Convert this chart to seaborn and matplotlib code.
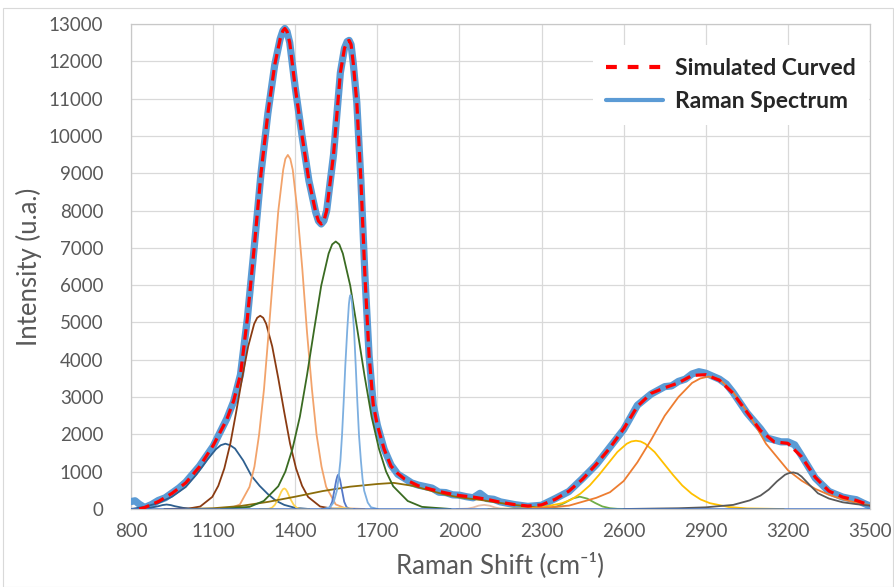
import matplotlib
matplotlib.use("Agg")
import matplotlib.pyplot as plt
import seaborn as sns
from matplotlib.lines import Line2D
from matplotlib.patches import Rectangle

# ---------------- data ----------------
x_ticks = [800, 1100, 1400, 1700, 2000, 2300, 2600, 2900, 3200, 3500]
y_ticks = list(range(0, 14000, 1000))

# simulated (fitted) curve
sim_x = [830, 850, 900, 950, 1000, 1050, 1100, 1150, 1175, 1200, 1225, 1250, 1275,
         1300, 1325, 1345, 1355, 1362, 1370, 1380, 1400, 1425, 1450, 1475, 1485, 1495,
         1505, 1515, 1540, 1565, 1580, 1590, 1597, 1604, 1612, 1625, 1640, 1655, 1670,
         1685, 1700, 1725, 1750, 1775, 1800, 1850, 1900, 1950, 2000, 2050, 2100, 2150,
         2200, 2250, 2300, 2350, 2400, 2450, 2500, 2550, 2600, 2650, 2700, 2750, 2800,
         2850, 2900, 2950, 3000, 3050, 3100, 3150, 3200, 3250, 3300, 3350, 3400, 3450, 3500]
sim_y = [0, 40, 200, 420, 700, 1130, 1700, 2400, 2900, 3600, 5100, 7000, 9000,
         10600, 11900, 12600, 12820, 12880, 12800, 12500, 11300, 10000, 8800, 7950, 7720, 7640,
         7730, 8000, 9500, 11700, 12350, 12530, 12560, 12450, 11950, 10900, 8800, 6200, 4100,
         2800, 2250, 1600, 1150, 950, 800, 620, 520, 430, 360, 320, 260, 180,
         120, 80, 110, 260, 480, 800, 1200, 1640, 2150, 2750, 3100, 3250, 3380,
         3580, 3600, 3450, 3100, 2600, 2100, 1800, 1760, 1400, 850, 480, 320, 230, 100]

# measured Raman spectrum (noisy)
raman_x = [800, 815, 830, 850, 875, 900, 925, 950, 975, 1000, 1050, 1100, 1150, 1175, 1200,
           1225, 1250, 1275, 1300, 1325, 1345, 1355, 1362, 1370, 1380, 1400, 1425, 1450, 1475,
           1485, 1495, 1505, 1515, 1540, 1565, 1580, 1590, 1597, 1604, 1612, 1625, 1640, 1655,
           1670, 1685, 1700, 1725, 1750, 1775, 1800, 1825, 1850, 1875, 1900, 1925, 1950, 1975,
           2000, 2025, 2050, 2075, 2100, 2125, 2150, 2200, 2250, 2300, 2350, 2400, 2450, 2500,
           2550, 2600, 2650, 2700, 2725, 2750, 2775, 2800, 2825, 2850, 2875, 2900, 2925, 2950,
           2975, 3000, 3050, 3100, 3125, 3150, 3175, 3200, 3225, 3250, 3300, 3350, 3400, 3425,
           3450, 3475, 3500]
raman_y = [200, 220, 130, 40, 120, 230, 300, 430, 560, 720, 1150, 1680, 2420, 2880, 3600,
           5100, 7000, 9000, 10600, 11900, 12600, 12820, 12880, 12800, 12500, 11300, 10000, 8800, 7950,
           7720, 7640, 7730, 8000, 9500, 11700, 12350, 12530, 12560, 12450, 11950, 10900, 8800, 6200,
           4100, 2800, 2250, 1600, 1180, 930, 820, 700, 640, 600, 560, 450, 440, 380,
           370, 330, 300, 420, 280, 260, 190, 120, 70, 100, 280, 470, 820, 1190,
           1660, 2130, 2780, 3080, 3180, 3280, 3300, 3420, 3480, 3620, 3680, 3640, 3560, 3480,
           3350, 3120, 2580, 2150, 1900, 1850, 1800, 1800, 1720, 1430, 830, 470, 320, 280,
           250, 160, 80]

# fitted components
c1_x = [800, 840, 870, 900, 915, 930, 945, 960, 990, 1020, 1050]
c1_y = [0, 9, 31, 75, 105, 120, 105, 75, 31, 9, 0]

c2_x = [800, 850, 900, 950, 1000, 1040, 1080, 1110, 1128, 1145, 1162, 1180, 1210, 1240,
        1270, 1300, 1330, 1360, 1400, 1450]
c2_y = [0, 60, 160, 330, 590, 930, 1330, 1600, 1710, 1750, 1710, 1620, 1300, 890,
        620, 400, 220, 110, 30, 0]

c3_x = [922, 1009, 1053, 1097, 1119, 1141, 1163, 1184, 1206, 1228, 1250, 1261, 1272, 1283,
        1294, 1316, 1338, 1360, 1381, 1403, 1425, 1447, 1491, 1535, 1622]
c3_y = [0, 10, 67, 324, 622, 1088, 1756, 2590, 3507, 4356, 4962, 5125, 5180, 5125,
        4962, 4356, 3507, 2590, 1756, 1088, 622, 324, 67, 10, 0]

c4_x = [1093, 1163, 1198, 1233, 1251, 1268, 1286, 1303, 1321, 1338, 1356, 1364, 1373, 1382,
        1391, 1408, 1426, 1443, 1461, 1478, 1496, 1513, 1548, 1583, 1653]
c4_y = [0, 19, 123, 593, 1139, 1993, 3217, 4745, 6425, 7981, 9091, 9386, 9490, 9386,
        9091, 7981, 6425, 4745, 3217, 1993, 1139, 593, 123, 19, 0]

c5_x = [1270, 1293, 1304, 1315, 1326, 1338, 1349, 1355, 1360, 1365, 1371, 1382, 1394, 1405, 1416, 1427, 1450]
c5_y = [0, 1, 7, 34, 116, 275, 463, 530, 550, 530, 463, 275, 116, 34, 7, 1, 0]

c6_x = [1000, 1100, 1200, 1300, 1400, 1500, 1600, 1700, 1760, 1830, 1900, 1950, 2000, 2080,
        2150, 2200, 2300, 2400]
c6_y = [0, 20, 80, 190, 330, 480, 598, 670, 700, 620, 480, 380, 310, 240,
        160, 110, 30, 0]

c7_x = [1128, 1233, 1285, 1338, 1364, 1390, 1417, 1443, 1469, 1495, 1522, 1535, 1548, 1561,
        1574, 1601, 1627, 1653, 1679, 1706, 1732, 1758, 1811, 1863, 1968]
c7_y = [0, 57, 215, 609, 1004, 1613, 2474, 3585, 4804, 5987, 6847, 7093, 7170, 7093,
        6847, 5987, 4804, 3585, 2474, 1613, 1004, 609, 215, 57, 0]

c8_x = [1497, 1512, 1520, 1527, 1535, 1542, 1550, 1554, 1557, 1560, 1564, 1572, 1579, 1587,
        1595, 1602, 1617]
c8_y = [0, 2, 12, 58, 193, 460, 774, 880, 920, 880, 774, 460, 193, 58,
        12, 2, 0]

c9_x = [1502, 1527, 1540, 1552, 1558, 1565, 1571, 1577, 1583, 1590, 1596, 1599, 1602, 1605,
        1608, 1615, 1621, 1627, 1633, 1640, 1646, 1652, 1665, 1677, 1702]
c9_y = [0, 46, 172, 488, 803, 1291, 1979, 2869, 3844, 4790, 5479, 5670, 5737, 5670,
        5479, 4790, 3844, 2869, 1979, 1291, 803, 488, 172, 46, 0]

c10_x = [1530, 1555, 1570, 1585, 1610]
c10_y = [0, 20, 28, 20, 0]

c11_x = [1990, 2030, 2050, 2070, 2090, 2110, 2130, 2150, 2190]
c11_y = [0, 10, 40, 90, 110, 90, 40, 10, 0]

c12_x = [2220, 2275, 2302, 2330, 2357, 2385, 2412, 2440, 2467, 2495, 2522, 2550, 2577, 2605, 2660]
c12_y = [0, 1, 4, 21, 69, 165, 278, 330, 278, 165, 69, 21, 4, 1, 0]

c13_x = [2105, 2240, 2307, 2375, 2409, 2442, 2476, 2510, 2544, 2577, 2611, 2628, 2645, 2662,
         2679, 2713, 2746, 2780, 2814, 2848, 2881, 2915, 2983, 3050, 3185]
c13_y = [0, 15, 55, 156, 256, 412, 631, 915, 1226, 1528, 1748, 1810, 1830, 1810,
         1748, 1528, 1226, 915, 631, 412, 256, 156, 55, 15, 0]

c14_x = [2200, 2300, 2400, 2500, 2550, 2600, 2650, 2700, 2750, 2800, 2850, 2880, 2910,
         2950, 3000, 3060, 3120, 3200, 3250, 3300, 3350, 3400, 3450, 3500]
c14_y = [0, 30, 90, 300, 450, 750, 1250, 1850, 2500, 3000, 3380, 3500, 3550,
         3480, 3130, 2520, 1750, 1040, 760, 540, 380, 260, 170, 100]

c15_x = [2600, 2800, 2900, 3000, 3060, 3100, 3130, 3160, 3190, 3205, 3220, 3235, 3250,
         3280, 3310, 3350, 3400, 3450, 3500]
c15_y = [0, 20, 45, 110, 230, 360, 520, 740, 920, 965, 980, 950, 870,
         640, 420, 280, 180, 130, 90]

base_x = [800, 3500]
base_y = [0, 0]

components = [
    (c1_x, c1_y, "#2E5F8F"),
    (c2_x, c2_y, "#2E5F8F"),
    (c3_x, c3_y, "#8A3B12"),
    (c4_x, c4_y, "#F2A36B"),
    (c5_x, c5_y, "#FFD34F"),
    (c6_x, c6_y, "#8C6D0A"),
    (c7_x, c7_y, "#3A6B22"),
    (c8_x, c8_y, "#5578C8"),
    (c9_x, c9_y, "#7DAFE0"),
    (c10_x, c10_y, "#FFD966"),
    (c11_x, c11_y, "#E8BFA8"),
    (c12_x, c12_y, "#70AD47"),
    (c13_x, c13_y, "#FFC000"),
    (c14_x, c14_y, "#ED7D31"),
    (c15_x, c15_y, "#595959"),
]

# ---------------- style ----------------
sns.set_style("white")
plt.rcParams["font.family"] = ["Lato", "DejaVu Sans"]

fig = plt.figure(figsize=(8.95, 5.87), dpi=100)
ax = fig.add_axes([131 / 895, 1 - 509 / 587, 739 / 895, 485 / 587])

# outer chart border
fig.patches.append(Rectangle((3 / 895, 0.5 / 587), 890 / 895, 579 / 587,
                             transform=fig.transFigure, fill=False,
                             edgecolor="#D9D9D9", linewidth=0.8))

sns.lineplot(x=raman_x, y=raman_y, ax=ax, color="#5B9BD5", linewidth=5.2,
             sort=False, estimator=None, zorder=3, solid_capstyle="round",
             solid_joinstyle="round")
for cx, cy, col in components:
    sns.lineplot(x=cx, y=cy, ax=ax, color=col, linewidth=1.3, sort=False,
                 estimator=None, zorder=4)
sns.lineplot(x=base_x, y=base_y, ax=ax, color="#4A78C6", linewidth=1.8,
             sort=False, estimator=None, zorder=4)
sns.lineplot(x=sim_x, y=sim_y, ax=ax, color="#FF0000", linewidth=2.3,
             linestyle=(0, (3.3, 1.8)), sort=False, estimator=None, zorder=5)

ax.set_xlim(800, 3500)
ax.set_ylim(0, 13000)
ax.set_xticks(x_ticks)
ax.set_yticks(y_ticks)
ax.grid(True, color="#D9D9D9", linewidth=0.9)
ax.set_axisbelow(True)
for s in ["left", "top", "right", "bottom"]:
    ax.spines[s].set_color("#C8C8C8")
    ax.spines[s].set_linewidth(0.9)

ax.tick_params(axis="both", length=0, labelsize=13.5, labelcolor="#595959")
ax.tick_params(axis="y", pad=20)
ax.tick_params(axis="x", pad=10)

ax.set_xlabel("Raman Shift (cm\u207b\u00b9)", fontsize=18.5, color="#595959", labelpad=9)
ax.set_ylabel("Intensity (u.a.)", fontsize=18.5, color="#595959", labelpad=5)

handles = [
    Line2D([0], [0], color="#FF0000", linewidth=3, linestyle=(0, (2.6, 2.6))),
    Line2D([0], [0], color="#5B9BD5", linewidth=3),
]
leg = ax.legend(handles, ["Simulated Curved", "Raman Spectrum"],
                loc="upper left", bbox_to_anchor=((593 - 131) / 739, (509 - 45) / 485),
                frameon=True, fancybox=False, framealpha=1, facecolor="white",
                edgecolor="none", handlelength=2.5, handletextpad=0.55,
                labelspacing=0.55, borderpad=0.55, borderaxespad=0,
                prop={"weight": "bold", "size": 16.5})
leg.set_zorder(10)

fig.savefig("out.png", dpi=100)
